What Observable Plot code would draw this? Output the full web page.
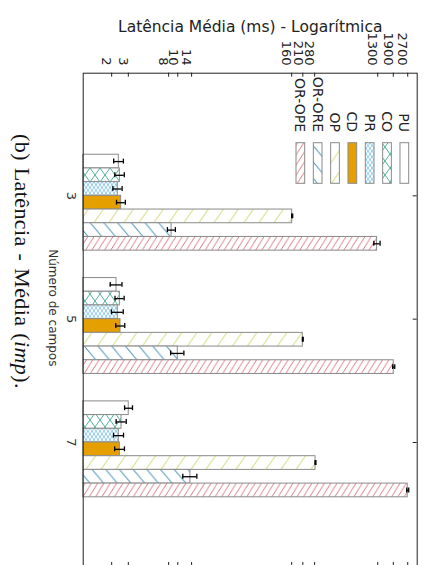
<!DOCTYPE html>
<html>
<head>
<meta charset="utf-8">
<script src="https://cdn.jsdelivr.net/npm/d3@7"></script>
<script src="https://cdn.jsdelivr.net/npm/@observablehq/plot@0.6"></script>
<style>
  html, body { margin: 0; padding: 0; background: #fff; }
  #figure { position: relative; width: 428px; height: 565px; display: flex; overflow: hidden; }
  #caption { position: relative; flex: none; width: 40px; height: 565px; }
  #caption span {
    position: absolute; left: 10px; top: 134px;
    writing-mode: vertical-rl; white-space: nowrap;
    font-family: "Liberation Serif", "DejaVu Serif", serif;
    font-size: 22px; line-height: 24px; letter-spacing: 0.4px; word-spacing: 1px; color: #111;
  }
  #chart { flex: none; width: 388px; height: 565px; }
</style>
</head>
<body>
<div id="figure">
  <div id="caption"><span>(b) Latência - Média (<i>imp</i>).</span></div>
  <div id="chart"></div>
</div>
<script>
// Número de campos: one bar group per field count
const fieldCounts = ["3", "5", "7"];
// Strategies, in bar order inside each group
const strategies = ["PU", "CO", "PR", "CD", "OP", "OR-ORE", "OR-OPE"];

// Mean latency (ms), one value per field count
const latPU  = [2.38, 2.25, 3.03];
const latCO  = [2.44, 2.44, 2.54];
const latPR  = [2.32, 2.32, 2.38];
const latCD  = [2.52, 2.48, 2.44];
const latOP  = [162, 210, 286];
const latORE = [8.6, 10, 13.6];
const latOPE = [1280, 1920, 2700];

// Half-width of the error whiskers (ms)
const errPU  = [0.28, 0.32, 0.29];
const errCO  = [0.28, 0.27, 0.31];
const errPR  = [0.26, 0.33, 0.29];
const errCD  = [0.27, 0.27, 0.29];
const errOP  = [2, 2, 3];
const errORE = [0.83, 1.6, 2.3];
const errOPE = [97, 47, 66];

// Tick values on the logarithmic latency axis
const latencyTicks = [2, 3, 8, 10, 14, 160, 210, 280, 1300, 1900, 2700];

const latencies = [latPU, latCO, latPR, latCD, latOP, latORE, latOPE];
const errors    = [errPU, errCO, errPR, errCD, errOP, errORE, errOPE];

// Bar fills (solid colours or hatch patterns defined below)
const fillOf = {
  "PU": "#ffffff",
  "CO": "url(#hatch-co)",
  "PR": "url(#hatch-pr)",
  "CD": "#e69f00",
  "OP": "url(#hatch-op)",
  "OR-ORE": "url(#hatch-ore)",
  "OR-OPE": "url(#hatch-ope)"
};

// Each group occupies 9 slots: 7 bars plus a gap
const slotsPerGroup = 9;
const rows = [];
fieldCounts.forEach((g, gi) => {
  strategies.forEach((s, si) => {
    rows.push({
      group: g,
      strategy: s,
      slot: gi * slotsPerGroup + si,
      value: latencies[si][gi],
      err: errors[si][gi]
    });
  });
});
const groupTicks = fieldCounts.map((g, gi) => gi * slotsPerGroup + 3);

const W = 388, H = 565;
const mL = 42.7, mR = 11.3, mT = 72.7, mB = -1;
const frameW = W - mL - mR;
const frameH = H - mT - mB;
const tickLen = 4;
const font = "DejaVu Sans, sans-serif";
const ink = "#222";

const plot = Plot.plot({
  width: W,
  height: H,
  marginLeft: mL,
  marginRight: mR,
  marginTop: mT,
  marginBottom: mB,
  style: {fontFamily: font, background: "#fff", color: ink},
  x: {type: "log", domain: [1, 3400], axis: null},
  y: {domain: [-5.95, 30.05], reverse: true, axis: null},
  color: {type: "identity"},
  marks: [
    // bars
    Plot.rect(rows, {
      x1: () => 1, x2: "value",
      y1: "slot", y2: d => d.slot + 1,
      fill: d => fillOf[d.strategy],
      stroke: "#8a8a8a", strokeWidth: 1
    }),
    // error whiskers with caps
    Plot.ruleY(rows, {
      x1: d => d.value - d.err, x2: d => d.value + d.err,
      y: d => d.slot + 0.5, stroke: "#000", strokeWidth: 1.3
    }),
    Plot.ruleX(rows, {
      x: d => d.value - d.err, y1: d => d.slot + 0.32, y2: d => d.slot + 0.68,
      stroke: "#000", strokeWidth: 1.3
    }),
    Plot.ruleX(rows, {
      x: d => d.value + d.err, y1: d => d.slot + 0.32, y2: d => d.slot + 0.68,
      stroke: "#000", strokeWidth: 1.3
    }),
    Plot.frame({stroke: ink, strokeWidth: 1}),
    // inward ticks on the latency axis (top and bottom edges)
    Plot.tickX(latencyTicks, {x: d => d, insetBottom: frameH - tickLen, stroke: ink}),
    Plot.tickX(latencyTicks, {x: d => d, insetTop: frameH - tickLen, stroke: ink}),
    // inward ticks for the field-count groups (right edge)
    Plot.tickY(groupTicks, {y: d => d, insetLeft: frameW - tickLen, stroke: ink}),
    // latency tick labels
    Plot.text(latencyTicks, {
      x: d => d, frameAnchor: "top", dy: -7.7, rotate: 90,
      textAnchor: "end", text: d => String(d),
      fontFamily: font, fontSize: 13, fill: ink
    }),
    // field-count labels
    Plot.text(fieldCounts, {
      y: (d, i) => groupTicks[i], frameAnchor: "left", dx: -11.7, rotate: 90,
      textAnchor: "middle", text: d => d, fontFamily: font, fontSize: 13, fill: "#333"
    }),
    // axis titles
    Plot.text(["Latência Média (ms) - Logarítmica"], {
      frameAnchor: "top", dy: -52.5, text: d => d,
      fontFamily: font, fontSize: 15.5, fill: ink
    }),
    Plot.text(["Número de campos"], {
      frameAnchor: "left", dx: -30.7, dy: -12, rotate: 90, textAnchor: "middle",
      text: d => d, fontFamily: font, fontSize: 12, fill: "#333"
    })
  ]
});

document.getElementById("chart").appendChild(plot);

// Hatch patterns used by the bar fills
const svg = d3.select(plot);
const defs = svg.insert("defs", ":first-child");

function hatch(id, w, h, color, sw, kinds) {
  const p = defs.append("pattern")
    .attr("id", id)
    .attr("patternUnits", "userSpaceOnUse")
    .attr("width", w).attr("height", h);
  p.append("rect").attr("width", w).attr("height", h).attr("fill", "#fff");
  for (const k of kinds) {
    for (const off of [-w, 0, w]) {
      const path = k === "/"
        ? `M${-w + off},${2 * h}L${2 * w + off},${-h}`
        : `M${-w + off},${-h}L${2 * w + off},${2 * h}`;
      p.append("path").attr("d", path)
        .attr("stroke", color).attr("stroke-width", sw).attr("fill", "none");
    }
  }
}
hatch("hatch-ope", 6.3, 10.1, "#d66b78", 0.9, ["/"]);
hatch("hatch-ore", 13.7, 16.3, "#4c93b8", 1, ["\\"]);
hatch("hatch-op", 15, 21.4, "#dbe08e", 1, ["/"]);
hatch("hatch-co", 10, 14, "#3fa98d", 0.9, ["/", "\\"]);
hatch("hatch-pr", 4, 5.6, "#6ab8e0", 0.7, ["/", "\\"]);

// Legend (top right of the frame), labels rotated like the rest of the figure
const legend = svg.append("g")
  .attr("font-family", font)
  .attr("font-size", 14)
  .attr("fill", ink);
strategies.slice().reverse().forEach((s, i) => {
  const x = 256 + i * 17.33;
  legend.append("rect")
    .attr("x", x).attr("y", 142.7)
    .attr("width", 8.7).attr("height", 40.6)
    .attr("fill", fillOf[s])
    .attr("stroke", "#8a8a8a");
  legend.append("text")
    .attr("transform", `translate(${x + 4.35},132) rotate(90)`)
    .attr("text-anchor", "end")
    .attr("dy", "0.35em")
    .text(s);
});
</script>
</body>
</html>
